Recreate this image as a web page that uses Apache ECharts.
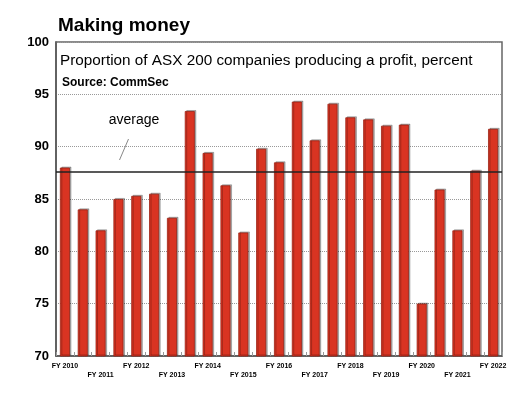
<!DOCTYPE html>
<html>
<head>
<meta charset="utf-8">
<script src="https://cdn.jsdelivr.net/npm/echarts@6/dist/echarts.min.js"></script>
<style>
html,body{margin:0;padding:0;background:#fff;}
#chart{width:532px;height:398px;}
</style>
</head>
<body>
<div id="chart"></div>
<script>
const categories = ['FY 2010','1H 2011','FY 2011','1H 2012','FY 2012','1H 2013','FY 2013','1H 2014','FY 2014','1H 2015','FY 2015','1H 2016','FY 2016','1H 2017','FY 2017','1H 2018','FY 2018','1H 2019','FY 2019','1H 2020','FY 2020','1H 2021','FY 2021','1H 2022','FY 2022'];
const profitShare = [88.0,84.0,82.0,85.0,85.3,85.5,83.2,93.4,89.4,86.3,81.8,89.8,88.5,94.3,90.6,94.1,92.8,92.6,92.0,92.1,75.0,85.9,82.0,87.7,91.7];
const averageValue = [87.6];
const yTicks = [70,75,80,85,90,95,100];

const FONT = "'Liberation Sans', Arial, sans-serif";
const chart = echarts.init(document.getElementById('chart'), null, {renderer:'canvas'});
chart.setOption({
  backgroundColor:'#fff',
  animation:false,
  textStyle:{fontFamily:FONT},
  title:[
    {text:'Making money', left:53, top:11, padding:5, textStyle:{fontFamily:FONT,fontSize:19,fontWeight:'bold',color:'#000'}},
    {text:'Proportion of ASX 200 companies producing a profit, percent', left:55, top:48, textStyle:{fontFamily:FONT,fontSize:15.3,fontWeight:'normal',color:'#000'}},
    {text:'Source: CommSec', left:57, top:72, textStyle:{fontFamily:FONT,fontSize:12,fontWeight:'bold',color:'#000'}}
  ],
  grid:{left:56,right:30,top:42,bottom:42,show:true,borderColor:'#666',borderWidth:1.5,backgroundColor:'transparent'},
  xAxis:{
    type:'category',
    data:categories,
    axisLine:{lineStyle:{color:'#555',width:1.5}},
    axisTick:{show:true,inside:true,length:4,interval:0,lineStyle:{color:'#999'}},
    axisLabel:{
      interval:0, margin:6, fontSize:7, fontWeight:'bold', color:'#000', lineHeight:9, fontFamily:FONT,
      formatter:function(v,i){ if(i%4===0) return v; if(i%4===2) return '\n'+v; return ''; }
    }
  },
  yAxis:{
    type:'value', min:yTicks[0], max:yTicks[yTicks.length-1], interval:5,
    axisLine:{show:true,lineStyle:{color:'#555',width:1.5}},
    axisTick:{show:false},
    axisLabel:{fontSize:13,fontWeight:'bold',color:'#000',margin:7,fontFamily:FONT},
    splitLine:{show:true,lineStyle:{type:'dotted',color:'#999',width:1}}
  },
  series:[{
    type:'bar',
    data:profitShare,
    barWidth:10,
    itemStyle:{color:'#d93422',borderColor:'#9a2214',borderWidth:0.8,shadowColor:'rgba(0,0,0,0.3)',shadowOffsetX:1.5,shadowOffsetY:-1,shadowBlur:0},
    markLine:{
      silent:true, symbol:'none', label:{show:false},
      lineStyle:{color:'#222',width:1.5,type:'solid'},
      data:[{yAxis:averageValue[0]}]
    }
  }],
  graphic:[
    {type:'text', x:134, y:120, style:{text:'average', fill:'#000', font:'14px '+FONT, textAlign:'center', textVerticalAlign:'middle'}},
    {type:'line', shape:{x1:128.5,y1:139,x2:119.5,y2:160}, style:{stroke:'#888',lineWidth:1}}
  ]
});
</script>
</body>
</html>
